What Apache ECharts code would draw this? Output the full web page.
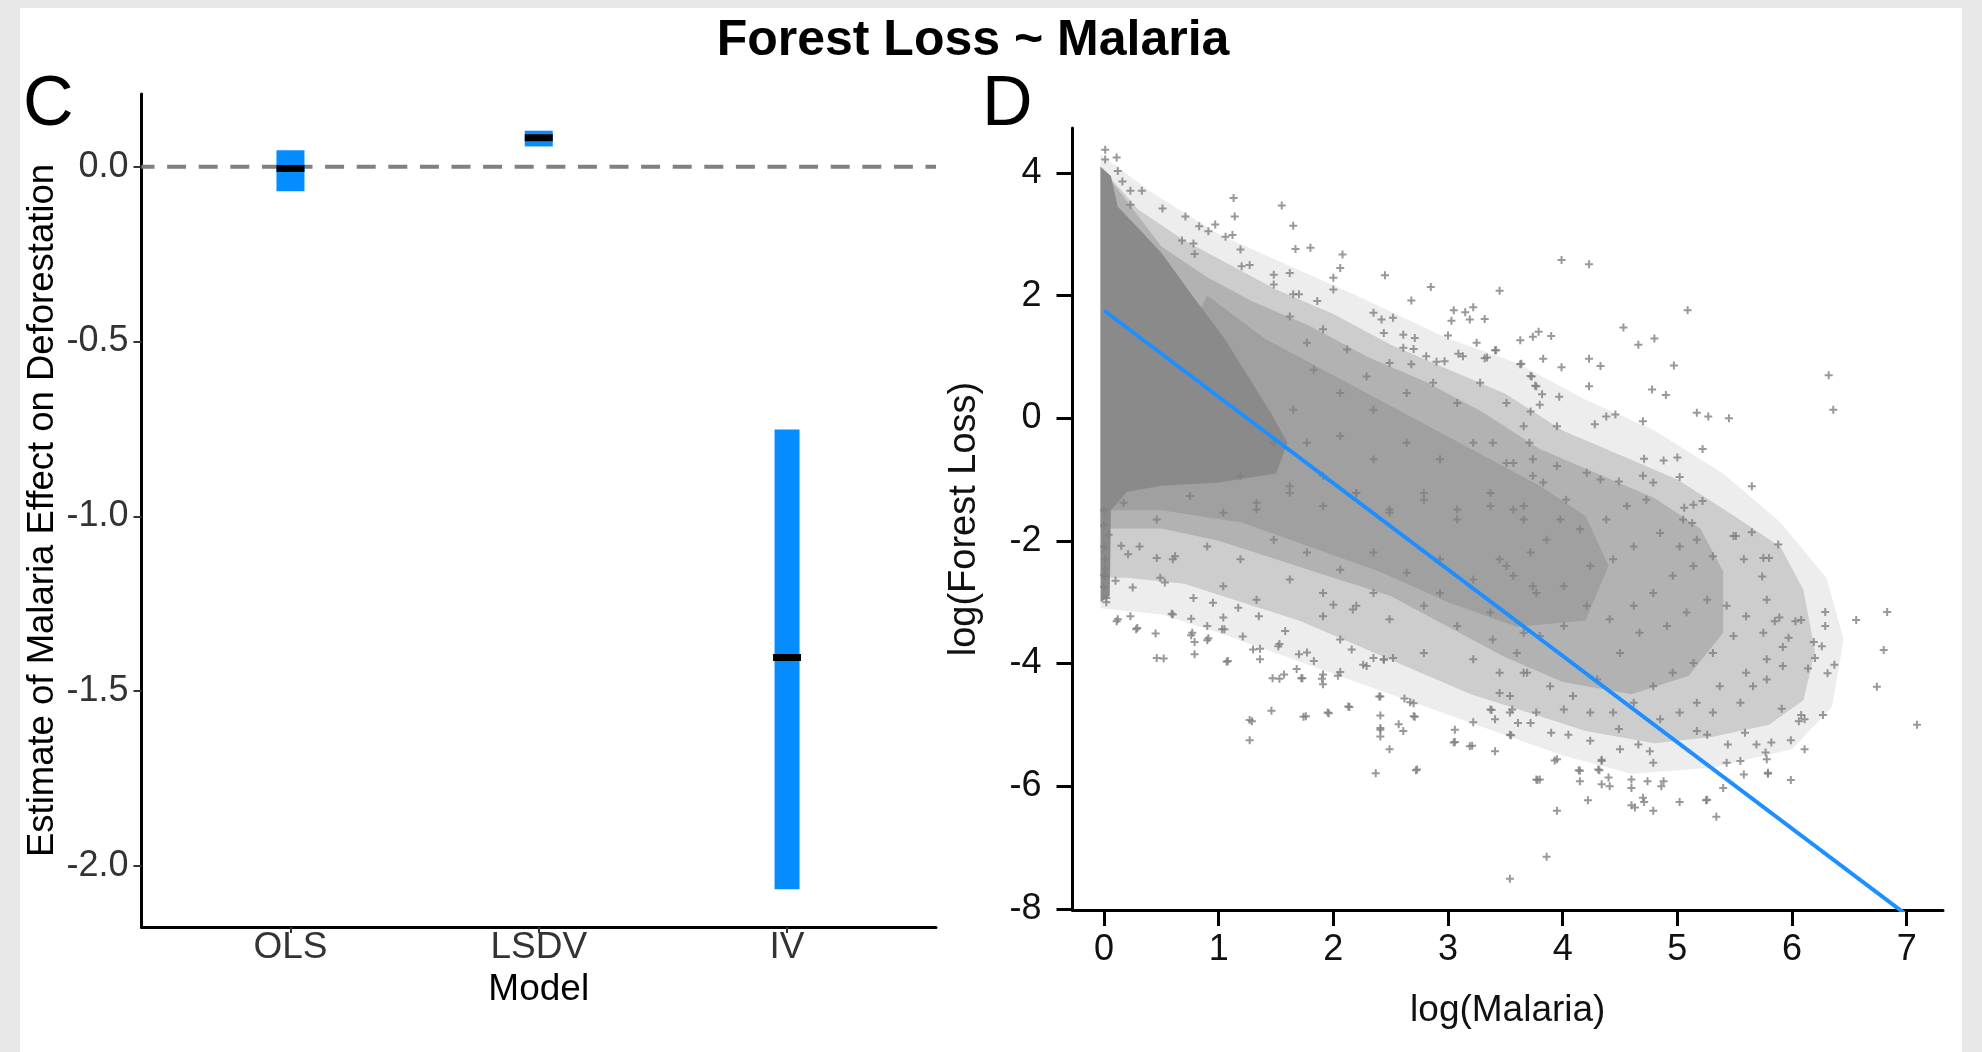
<!DOCTYPE html>
<html>
<head>
<meta charset="utf-8">
<script src="https://cdn.jsdelivr.net/npm/echarts@6/dist/echarts.min.js"></script>
<style>
html,body{margin:0;padding:0;background:#e8e8e8;}
#chart{width:1982px;height:1052px;}
</style>
</head>
<body>
<div id="chart"></div>
<script>
// ---------- Panel C data ----------
const models = ['OLS', 'LSDV', 'IV'];
const modelPos = [1, 2, 3];
const estimate = [-0.005, 0.083, -1.404];
const ciLow = [-0.070, 0.058, -2.067];
const ciHigh = [0.047, 0.103, -0.752];
const cTicks = [-2.0, -1.5, -1.0, -0.5, 0.0];

// ---------- Panel D data ----------
const dXTicks = [0, 1, 2, 3, 4, 5, 6, 7];
const dYTicks = [-8, -6, -4, -2, 0, 2, 4];
const fitX = [0, 7.0];
const fitY = [1.757, -8.10];

// saturated / overplotted regions of the point cloud (outlines)
const densityHalo = [[-0.03,4.3],[0.4,3.7],[1.0,3.0],[1.6,2.5],[2.2,2.0],[3.0,1.3],[3.6,0.9],[4.2,0.3],[4.8,-0.2],[5.4,-0.9],[5.9,-1.7],[6.3,-2.6],[6.45,-3.6],[6.35,-4.7],[6.0,-5.4],[5.3,-5.7],[4.6,-5.8],[4.0,-5.5],[3.4,-5.1],[2.8,-4.7],[2.2,-4.3],[1.6,-3.9],[1.0,-3.5],[0.5,-3.2],[-0.03,-3.1]];
const densityBand = [[-0.03,4.1],[0.3,3.4],[0.7,2.9],[1.0,2.6],[1.5,2.1],[2.0,1.7],[2.5,1.2],[3.0,0.8],[3.5,0.4],[4.0,-0.2],[4.5,-0.6],[5.0,-1.0],[5.5,-1.6],[5.9,-2.1],[6.1,-2.8],[6.2,-3.8],[6.1,-4.6],[5.8,-5.0],[5.3,-5.2],[4.8,-5.3],[4.2,-5.1],[3.7,-4.8],[3.2,-4.5],[2.7,-4.1],[2.2,-3.7],[1.7,-3.3],[1.2,-3.0],[0.7,-2.7],[0.2,-2.6],[-0.03,-2.6]];
const densityMid = [[-0.03,4.1],[0.5,2.8],[0.9,2.3],[1.3,1.9],[1.8,1.5],[2.3,1.0],[2.8,0.6],[3.3,0.1],[3.8,-0.5],[4.3,-0.9],[4.8,-1.3],[5.2,-1.8],[5.4,-2.5],[5.4,-3.5],[5.1,-4.2],[4.6,-4.5],[4.0,-4.3],[3.5,-3.9],[3.0,-3.4],[2.5,-2.9],[2.0,-2.6],[1.5,-2.3],[1.0,-2.0],[0.5,-1.8],[-0.03,-1.8]];
const densityInner = [[0.9,2.0],[1.4,1.3],[2.0,0.7],[2.6,0.1],[3.2,-0.5],[3.8,-1.1],[4.2,-1.6],[4.4,-2.4],[4.2,-3.3],[3.6,-3.4],[3.0,-3.0],[2.4,-2.5],[1.8,-2.1],[1.2,-1.7],[0.5,-1.5],[-0.03,-1.5]];
const densityCore = [[-0.03,4.1],[0.06,3.95],[0.12,3.45],[0.3,3.1],[0.5,2.7],[0.75,2.05],[1.05,1.3],[1.25,0.7],[1.45,0.1],[1.6,-0.4],[1.5,-0.9],[1.0,-1.05],[0.5,-1.1],[0.2,-1.2],[0.06,-1.5],[0.05,-2.9],[-0.03,-3.0]];

// individually visible points
const scatterPoints = [
[0.01,4.38],[0.11,4.25],[0.01,4.22],[0.12,4.03],[0.16,3.86],[0.23,3.71],[0.33,3.71],[0.23,3.48],[0.51,3.42],[0.71,3.29],[1.13,3.59],[1.14,3.29],[1.55,3.47],[1.65,3.14],[0.83,3.13],[0.97,3.16],[0.91,3.05],[1.06,2.96],[1.12,2.99],[0.68,2.9],[0.78,2.85],[0.79,2.68],[1.19,2.75],[1.67,2.76],[1.8,2.78],[2.08,2.67],[2.06,2.45],[2.0,2.29],[2.0,2.1],[2.45,2.33],[2.85,2.14],[3.45,2.08],[2.68,1.92],[3.05,1.76],[3.15,1.73],[3.22,1.81],[3.32,1.62],[3.19,1.61],[3.0,1.35],[3.03,1.59],[3.63,1.27],[3.74,1.33],[3.79,1.41],[1.27,2.5],[1.2,2.48],[1.48,2.34],[1.62,2.37],[1.48,2.18],[1.7,2.02],[1.65,2.02],[1.86,1.91],[2.35,1.72],[2.42,1.61],[2.52,1.64],[2.44,1.39],[2.61,1.36],[2.71,1.31],[2.61,1.15],[2.7,1.13],[2.68,0.88],[2.81,1.01],[2.9,0.92],[2.97,0.93],[3.09,1.05],[3.13,1.01],[3.25,1.23],[3.32,0.98],[3.41,1.11],[3.63,0.88],[3.73,0.68],[3.77,0.52],[3.72,0.11],
[3.99,2.58],[4.23,2.51],[5.09,1.76],[4.53,1.48],[4.8,1.3],[4.66,1.2],[4.97,0.86],[4.33,0.85],[4.23,0.97],[4.23,0.52],[3.99,0.83],[3.83,0.97],[3.9,1.34],[3.64,0.89],[3.42,1.11],[3.34,0.99],[4.78,0.47],[4.9,0.38],[3.97,0.35],[5.17,0.09],[5.27,0.03],[5.45,0.0],[6.32,0.7],[6.36,0.14],[4.46,0.06],[4.38,0.03],[4.7,-0.05],[3.72,0.69],[3.76,0.53],[3.82,0.39],[3.8,0.22],
[5.22,-0.5],[5.65,-1.11],[5.02,-0.96],[4.71,-0.66],[4.88,-0.69],[5.0,-0.64],[5.65,-1.86],[5.51,-1.92],[5.88,-2.06],[5.22,-1.35],[5.14,-1.41],[5.06,-1.46],[5.05,-1.65],[5.13,-1.71],[5.75,-2.28],[5.8,-2.28],[5.74,-2.58],[5.78,-2.96],
[7.09,-5.0],[6.83,-3.16],[6.8,-3.78],[6.74,-4.38],[6.56,-3.29],[6.29,-3.16],[6.29,-3.39],[6.31,-4.16],[6.37,-4.02],[6.14,-4.08],[6.27,-4.84],[6.11,-4.91],[6.08,-4.84],[6.11,-5.4],[5.99,-5.25],[5.99,-5.9],[5.85,-3.31],[6.08,-3.29],[5.79,-5.8],[5.82,-5.29],[6.2,-3.91],[6.19,-3.65],[6.26,-3.72],[6.06,-4.94],[5.89,-3.25],[6.03,-3.31],[5.97,-3.58],[5.92,-3.73],[5.92,-4.04],[5.91,-4.74],
[5.34,-6.5],[5.4,-6.03],[5.25,-6.23],[5.02,-6.26],[4.79,-6.4],[4.71,-6.26],[4.6,-6.31],[4.6,-6.03],[4.74,-5.92],[4.86,-6.0],[4.88,-5.92],[4.34,-5.97],[4.4,-5.86],[4.22,-6.23],[3.95,-6.4],[3.78,-5.9],[3.86,-7.15],[3.54,-7.51],[4.14,-5.74],[4.32,-5.74],[4.34,-5.57],[3.93,-5.58],[3.06,-5.08],[3.06,-5.28],[3.21,-5.34],[3.41,-5.43],[2.72,-5.74],[2.37,-5.79],[2.49,-5.4],[2.41,-5.08],[2.61,-5.1],[2.67,-4.63],[2.71,-4.87],[2.41,-4.54],[2.14,-4.71],[1.96,-4.81],[1.76,-4.86],[1.46,-4.77],[1.27,-4.92],[1.27,-5.25],[1.07,-3.97],[0.79,-3.85],[0.46,-3.91],[0.45,-3.51],[0.28,-3.44],[0.11,-3.31],[0.02,-2.93],[0.0,-2.56],[0.25,-2.76],[0.59,-3.19],[0.76,-3.54],[0.9,-3.62],[1.05,-3.44],[1.72,-4.24],[1.53,-4.25],[1.9,-4.25],[2.06,-4.14],[1.7,-3.85],[1.36,-3.76],[1.53,-3.68],[2.26,-4.02],[2.44,-3.94],
[0.01,-2.58],[0.1,-2.65],[0.12,-3.28],[0.29,-3.42],[0.23,-3.23],[0.52,-3.92],[0.6,-3.2],[0.77,-3.5],[0.79,-3.65],[0.76,-3.27],[0.9,-3.39],[0.91,-3.59],[1.03,-3.44],[1.08,-3.96],[1.21,-3.56],[1.29,-4.94],[1.47,-4.24],[1.57,-4.18],[1.74,-4.87],[1.73,-4.24],[1.68,-4.09],[1.91,-4.18],[1.91,-4.34],[2.04,-4.2],[1.95,-4.8],[2.13,-4.7],[2.73,-5.73],[2.4,-4.54],[2.41,-4.85],[2.41,-5.05],[2.41,-5.19],[2.57,-4.99],[2.62,-4.57],[2.7,-4.65],[2.7,-4.86],[3.05,-5.29],[3.19,-5.35],[3.22,-4.96],[3.55,-5.17],[3.38,-4.76],[3.54,-4.8],[3.61,-4.97],[3.72,-4.97],[3.77,-5.89],[0.15,-2.08],[0.21,-2.22],[0.0,-2.09],[0.04,-1.9],[0.78,-2.93],[0.46,-2.28],[0.62,-2.25],[0.49,-2.6],[0.53,-2.68],[0.95,-3.01],[1.04,-3.25],[1.17,-3.09],[1.35,-3.23],[1.3,-3.77],[1.36,-3.93],[1.52,-3.72],[1.58,-3.47],[1.77,-3.82],[1.83,-3.96],[1.91,-3.23],[2.0,-3.04],[2.06,-3.61],[2.16,-3.77],[2.17,-3.12],[2.29,-4.04],[2.35,-3.91],[2.44,-3.93],[2.52,-3.91],
[5.79,-5.78],[5.58,-5.81],[5.55,-5.59],[5.43,-5.62],[5.26,-6.22],[4.79,-5.62],[4.7,-6.19],[4.63,-6.35],[4.6,-5.89],[4.41,-6.0],[4.31,-5.73],[4.34,-5.59],[4.15,-5.92],[4.15,-5.75],[3.95,-5.56],[3.8,-5.89],[3.54,-5.16],[3.41,-4.91],[3.37,-4.75],[3.56,-4.75],[3.9,-5.13],[4.05,-5.16],[4.24,-5.26],[4.49,-5.07],[4.5,-5.4],[4.66,-5.32],[4.76,-5.43],[5.17,-5.1],[5.26,-5.16],[5.44,-5.32],[5.59,-5.13],[5.69,-5.32],[5.77,-5.45],[5.78,-5.56],
[0.0,-1.5],[0.0,-1.75],[0.01,-2.3],[0.0,-2.75],[0.02,-3.0],[0.01,-2.45],
[3.39,-0.4],[3.57,-0.73],[3.74,-0.67],[3.95,-0.13],[4.28,-0.1],[3.95,-0.78],[3.66,-1.43],[3.83,-1.05],[4.03,-1.33],[4.21,-0.89],[4.33,-1.0],[4.49,-1.03],[4.7,-0.94],[4.79,-1.05],[4.73,-1.33],[4.56,-1.43],[4.38,-1.65],[4.15,-1.81],[3.98,-1.65],[3.86,-1.98],[3.72,-2.19],[3.45,-2.3],[3.57,-2.57],[3.77,-2.85],[4.01,-2.74],[4.24,-2.41],[4.44,-2.3],[4.62,-2.09],[4.85,-1.87],[5.02,-2.09],[5.17,-1.98],[5.31,-2.25],[5.49,-1.92],[5.58,-2.3],[5.14,-2.41],[4.96,-2.57],[4.79,-2.85],[4.62,-3.06],[4.41,-3.28],[4.21,-3.06],[4.01,-3.39],[3.8,-3.55],[3.6,-3.83],[3.39,-3.61],[3.45,-4.15],[3.69,-4.15],[3.89,-4.37],[4.09,-4.53],[4.3,-4.26],[4.5,-3.83],[4.67,-3.5],[4.91,-3.39],[5.08,-3.17],[5.26,-2.96],[5.43,-3.06],[5.6,-3.23],[5.75,-3.5],[5.49,-3.55],[5.31,-3.83],[5.14,-3.99],[4.96,-4.15],[4.79,-4.37],[4.62,-4.64],[4.44,-4.8],[4.24,-4.8],[4.01,-4.75],[3.77,-4.8],[3.54,-4.53],[5.78,-3.93],[5.6,-4.15],[5.37,-4.37],[5.17,-4.64],[5.02,-4.8],[4.85,-4.91],[5.31,-4.8],[5.55,-4.64],[5.66,-4.37],[5.78,-4.26],
[1.62,1.66],[1.77,1.23],[1.91,1.45],[2.12,1.12],[2.29,0.68],[2.49,0.9],[2.64,0.41],[2.87,0.58],[3.08,0.25],[3.28,0.58],[3.51,0.25],[3.66,-0.13],[2.35,0.14],[2.06,0.41],[1.83,0.79],[1.65,0.14],[1.48,-0.4],[1.77,-0.4],[2.06,-0.29],[2.35,-0.67],[2.64,-0.4],[2.93,-0.67],[3.22,-0.4],[3.51,-0.73],[3.74,-0.94],[3.37,-1.22],[3.08,-1.49],[2.79,-1.22],[2.49,-1.49],[2.2,-1.22],[1.91,-0.94],[1.62,-1.22],[1.33,-1.49],[1.19,-0.94],[3.57,-1.49],[3.71,-0.4],
[0.17,-1.38],[0.46,-1.65],[0.75,-1.27],[1.04,-1.54],[1.33,-1.38],[1.62,-1.11],[1.91,-1.43],[2.2,-1.22],[2.49,-1.54],[2.79,-1.33],[3.08,-1.65],[3.37,-1.43],[3.66,-1.65],[0.31,-2.09],[0.6,-2.3],[0.9,-2.09],[1.19,-2.3],[1.48,-1.98],[1.77,-2.19],[2.06,-2.47],[2.35,-2.19],[2.64,-2.52],[2.93,-2.3],[3.22,-2.63],[3.51,-2.41],[3.74,-2.74],[1.04,-2.74],[1.33,-2.96],[1.62,-2.63],[1.91,-2.85],[2.2,-3.06],[2.49,-3.28],[2.79,-3.06],[3.08,-3.39],[3.37,-3.17],[3.66,-3.5],[2.79,-3.83],[3.22,-3.93],[3.66,-4.15],[3.45,-4.48],[2.35,-2.85],[2.93,-2.85]
];

// ---------- styling ----------
const FONT = "'Liberation Sans', Arial, Helvetica, sans-serif";
const barWidths = [28, 28, 25];
const BLUE = '#058cff';

const chart = echarts.init(document.getElementById('chart'), null, {renderer: 'canvas'});

function densitySeries(poly, color, z) {
  return {
    type: 'custom', xAxisIndex: 1, yAxisIndex: 1, z: z, silent: true, clip: true,
    data: [[poly[0][0], poly[0][1]]],
    renderItem: function (params, api) {
      return {type: 'polygon', shape: {points: poly.map(function (p) { return api.coord(p); })},
              style: {fill: color}};
    }
  };
}

const option = {
  animation: false,
  backgroundColor: 'transparent',
  textStyle: {fontFamily: FONT},
  graphic: [
    {type: 'rect', z: -10, shape: {x: 20, y: 8, width: 1942, height: 1044}, style: {fill: '#ffffff'}},
    {type: 'text', x: 973, y: 41, style: {text: 'Forest Loss ~ Malaria', font: 'bold 50px ' + FONT, fill: '#000', textAlign: 'center', textVerticalAlign: 'middle'}},
    {type: 'text', x: 23, y: 106, style: {text: 'C', font: '70px ' + FONT, fill: '#000', textAlign: 'left', textVerticalAlign: 'middle'}},
    {type: 'text', x: 982, y: 106, style: {text: 'D', font: '70px ' + FONT, fill: '#000', textAlign: 'left', textVerticalAlign: 'middle'}}
  ],
  grid: [
    {left: 141.5, top: 94, width: 794.5, height: 833, outerBoundsMode: 'none'},
    {left: 1072.5, top: 128, width: 870.5, height: 782, outerBoundsMode: 'none'}
  ],
  xAxis: [
    {
      gridIndex: 0, type: 'value', min: 0.4, max: 3.6,
      axisLine: {onZero: false, lineStyle: {color: '#000', width: 3}},
      axisTick: {customValues: modelPos, length: 6, lineStyle: {color: '#333', width: 2}},
      axisLabel: {customValues: modelPos, formatter: function (v) { return models[Math.round(v) - 1]; },
                  fontSize: 37, color: '#333', margin: 2, fontFamily: FONT},
      splitLine: {show: false},
      name: 'Model', nameLocation: 'middle', nameGap: 37,
      nameTextStyle: {fontSize: 37, color: '#000', fontFamily: FONT}
    },
    {
      gridIndex: 1, type: 'value', min: -0.275, max: 7.317,
      axisLine: {onZero: false, lineStyle: {color: '#000', width: 3}},
      axisTick: {customValues: dXTicks, length: 16, lineStyle: {color: '#000', width: 3}},
      axisLabel: {customValues: dXTicks, fontSize: 36, color: '#111', margin: 22, fontFamily: FONT},
      splitLine: {show: false},
      name: 'log(Malaria)', nameLocation: 'middle', nameGap: 82,
      nameTextStyle: {fontSize: 37, color: '#111', fontFamily: FONT}
    }
  ],
  yAxis: [
    {
      gridIndex: 0, type: 'value', min: -2.175, max: 0.208,
      axisLine: {onZero: false, lineStyle: {color: '#000', width: 3}},
      axisTick: {customValues: cTicks, length: 8, lineStyle: {color: '#333', width: 2}},
      axisLabel: {customValues: cTicks, formatter: function (v) { return v.toFixed(1); },
                  fontSize: 36, color: '#333', margin: 13, fontFamily: FONT},
      splitLine: {show: false},
      name: 'Estimate of Malaria Effect on Deforestation', nameLocation: 'middle', nameGap: 80, nameRotate: 90,
      nameTextStyle: {fontSize: 36.5, color: '#000', fontFamily: FONT}
    },
    {
      gridIndex: 1, type: 'value', min: -8.02, max: 4.733,
      axisLine: {onZero: false, lineStyle: {color: '#000', width: 3}},
      axisTick: {customValues: dYTicks, length: 16, lineStyle: {color: '#000', width: 3}},
      axisLabel: {customValues: dYTicks, fontSize: 36, color: '#111', margin: 31, fontFamily: FONT},
      splitLine: {show: false},
      name: 'log(Forest Loss)', nameLocation: 'middle', nameGap: 89, nameRotate: 90,
      nameTextStyle: {fontSize: 38, color: '#111', fontFamily: FONT}
    }
  ],
  series: [
    {
      type: 'line', xAxisIndex: 0, yAxisIndex: 0, z: 1, silent: true, symbol: 'none',
      data: [[0.4, 0], [3.6, 0]],
      lineStyle: {color: '#808080', width: 4, type: [19, 12.6], dashOffset: 6}
    },
    {
      type: 'custom', xAxisIndex: 0, yAxisIndex: 0, z: 3, silent: true,
      data: modelPos.map(function (x, i) { return [x, ciLow[i], ciHigh[i], estimate[i]]; }),
      renderItem: function (params, api) {
        const x = api.value(0);
        const pHi = api.coord([x, api.value(2)]);
        const pLo = api.coord([x, api.value(1)]);
        const pE = api.coord([x, api.value(3)]);
        const w = barWidths[params.dataIndex];
        return {type: 'group', children: [
          {type: 'rect', shape: {x: pHi[0] - w / 2, y: pHi[1], width: w, height: pLo[1] - pHi[1]}, style: {fill: BLUE}},
          {type: 'rect', shape: {x: pE[0] - 14, y: pE[1] - 3.5, width: 28, height: 7}, style: {fill: '#000'}}
        ]};
      }
    },
    densitySeries(densityHalo, '#ededed', 1),
    densitySeries(densityBand, '#cdcdcd', 1),
    densitySeries(densityMid, '#b2b2b2', 2),
    densitySeries(densityInner, '#a0a0a0', 2),
    densitySeries(densityCore, '#8a8a8a', 3),
    {
      type: 'scatter', xAxisIndex: 1, yAxisIndex: 1, z: 4, silent: true,
      symbol: 'path://M3,0H5V3H8V5H5V8H3V5H0V3H3Z', symbolSize: 8,
      itemStyle: {color: '#808080'},
      data: scatterPoints
    },
    {
      type: 'line', xAxisIndex: 1, yAxisIndex: 1, z: 5, silent: true, symbol: 'none', clip: true,
      data: fitX.map(function (x, i) { return [x, fitY[i]]; }),
      lineStyle: {color: '#1e8fff', width: 4}
    }
  ]
};
chart.setOption(option);
</script>
</body>
</html>
